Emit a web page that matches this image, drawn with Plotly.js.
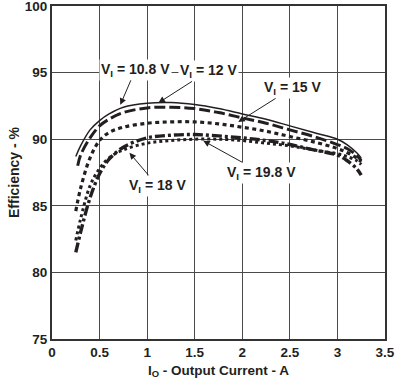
<!DOCTYPE html>
<html>
<head>
<meta charset="utf-8">
<script src="https://cdn.plot.ly/plotly-3.0.1.min.js"></script>
<style>html,body{margin:0;padding:0;background:#fff;}#chart{width:401px;height:388px;}</style>
</head>
<body>
<div id="chart"></div>
<script>
// Output current (A)
const current_108 = [0.25, 0.3, 0.4, 0.5, 0.6, 0.75, 1.0, 1.25, 1.5, 1.75, 2.0, 2.25, 2.5, 2.75, 3.0, 3.1, 3.2, 3.25];
const eff_108     = [88.7, 89.5, 90.7, 91.4, 91.9, 92.4, 92.7, 92.75, 92.6, 92.3, 91.9, 91.5, 91.0, 90.5, 90.0, 89.6, 89.0, 88.6];

const current_12 = [0.27, 0.3, 0.4, 0.5, 0.6, 0.75, 1.0, 1.25, 1.5, 1.75, 2.0, 2.25, 2.5, 2.75, 3.0, 3.1, 3.2, 3.25];
const eff_12     = [88.0, 88.8, 90.1, 91.0, 91.5, 92.0, 92.35, 92.4, 92.3, 92.0, 91.6, 91.2, 90.7, 90.2, 89.6, 89.3, 88.8, 88.4];

const current_15 = [0.25, 0.3, 0.4, 0.5, 0.6, 0.75, 1.0, 1.25, 1.5, 1.75, 2.0, 2.25, 2.5, 2.75, 3.0, 3.1, 3.2, 3.25];
const eff_15     = [84.6, 86.3, 88.6, 89.9, 90.5, 90.9, 91.2, 91.3, 91.3, 91.15, 90.9, 90.6, 90.2, 89.8, 89.3, 89.0, 88.6, 88.3];

const current_18 = [0.25, 0.3, 0.4, 0.5, 0.6, 0.75, 1.0, 1.25, 1.5, 1.75, 2.0, 2.25, 2.5, 2.75, 3.0, 3.1, 3.2, 3.25];
const eff_18     = [82.4, 84.0, 86.5, 87.8, 88.6, 89.2, 89.7, 89.9, 90.0, 90.0, 89.9, 89.7, 89.5, 89.2, 88.9, 88.7, 88.4, 88.1];

const current_198 = [0.25, 0.3, 0.4, 0.5, 0.6, 0.75, 1.0, 1.25, 1.5, 1.75, 2.0, 2.25, 2.5, 2.75, 3.0, 3.1, 3.2, 3.25];
const eff_198     = [81.5, 83.0, 85.6, 87.4, 88.5, 89.4, 90.1, 90.3, 90.35, 90.25, 90.1, 89.9, 89.6, 89.2, 88.8, 88.4, 87.8, 87.3];

const seriesNames = ['V_I = 10.8 V', 'V_I = 12 V', 'V_I = 15 V', 'V_I = 18 V', 'V_I = 19.8 V'];
const xTicks = [0, 0.5, 1, 1.5, 2, 2.5, 3, 3.5];
const yTicks = [75, 80, 85, 90, 95, 100];

const fam = 'Liberation Sans, Arial, sans-serif';
const ink = '#231f20';
const tickFont = {family: fam, size: 13.5, color: ink, weight: 'bold'};
const titleFontX = {family: fam, size: 13.5, color: ink, weight: 'bold'};
const titleFontY = {family: fam, size: 14, color: ink, weight: 'bold'};
const annFont = {family: fam, size: 14, color: ink, weight: 'bold'};

const traces = [
  {x: current_108, y: eff_108, name: seriesNames[0], mode: 'lines', line: {color: ink, width: 1.5, shape: 'spline'}},
  {x: current_12, y: eff_12, name: seriesNames[1], mode: 'lines', line: {color: ink, width: 3, dash: '11px,4px', shape: 'spline'}},
  {x: current_15, y: eff_15, name: seriesNames[2], mode: 'lines', line: {color: ink, width: 3.2, dash: '4px,3.5px', shape: 'spline'}},
  {x: current_18, y: eff_18, name: seriesNames[3], mode: 'lines', line: {color: ink, width: 3, dash: '3px,3px', shape: 'spline'}},
  {x: current_198, y: eff_198, name: seriesNames[4], mode: 'lines', line: {color: ink, width: 3.4, dash: '10px,3px,3px,3px', shape: 'spline'}}
];

function label(text, x, y, ax, ay) {
  return {text: text, x: x, y: y, xref: 'x', yref: 'y', ax: ax, ay: ay,
    showarrow: true, arrowhead: 2, arrowsize: 1.3, arrowwidth: 1, arrowcolor: ink,
    bgcolor: '#ffffff', borderpad: 1, font: annFont};
}

const layout = {
  width: 401, height: 388,
  margin: {l: 51.5, r: 16, t: 6, b: 48.5},
  paper_bgcolor: '#ffffff', plot_bgcolor: '#ffffff',
  showlegend: false,
  font: tickFont,
  xaxis: {
    range: [-0.0001, 3.5001], tickvals: xTicks, ticktext: xTicks.map(String),
    showgrid: true, gridcolor: '#4a4a4a', gridwidth: 1,
    showline: true, linecolor: '#333333', linewidth: 2, mirror: true,
    ticks: '', zeroline: false, tickfont: tickFont, ticklabeloverflow: 'allow',
    title: {text: 'I<sub>O</sub> - Output Current - A', font: titleFontX, standoff: 6}
  },
  yaxis: {
    range: [74.999, 100.001], tickvals: yTicks, ticktext: yTicks.map(String),
    showgrid: true, gridcolor: '#4a4a4a', gridwidth: 1,
    showline: true, linecolor: '#333333', linewidth: 2, mirror: true,
    ticks: '', zeroline: false, tickfont: tickFont, ticklabeloverflow: 'allow',
    title: {text: 'Efficiency - %', font: titleFontY, standoff: 2}
  },
  annotations: [
    label('V<sub>I</sub> = 10.8 V', 0.718, 92.58, 15, -35),
    label('V<sub>I</sub> = 12 V', 1.119, 92.73, 50, -32),
    label('V<sub>I</sub> = 15 V', 1.958, 91.3, 54, -34),
    label('V<sub>I</sub> = 18 V', 0.814, 88.98, 28, 33),
    label('V<sub>I</sub> = 19.8 V', 1.59, 89.88, 58, 32)
  ]
};

Plotly.newPlot('chart', traces, layout, {staticPlot: true, displayModeBar: false});
</script>
</body>
</html>
